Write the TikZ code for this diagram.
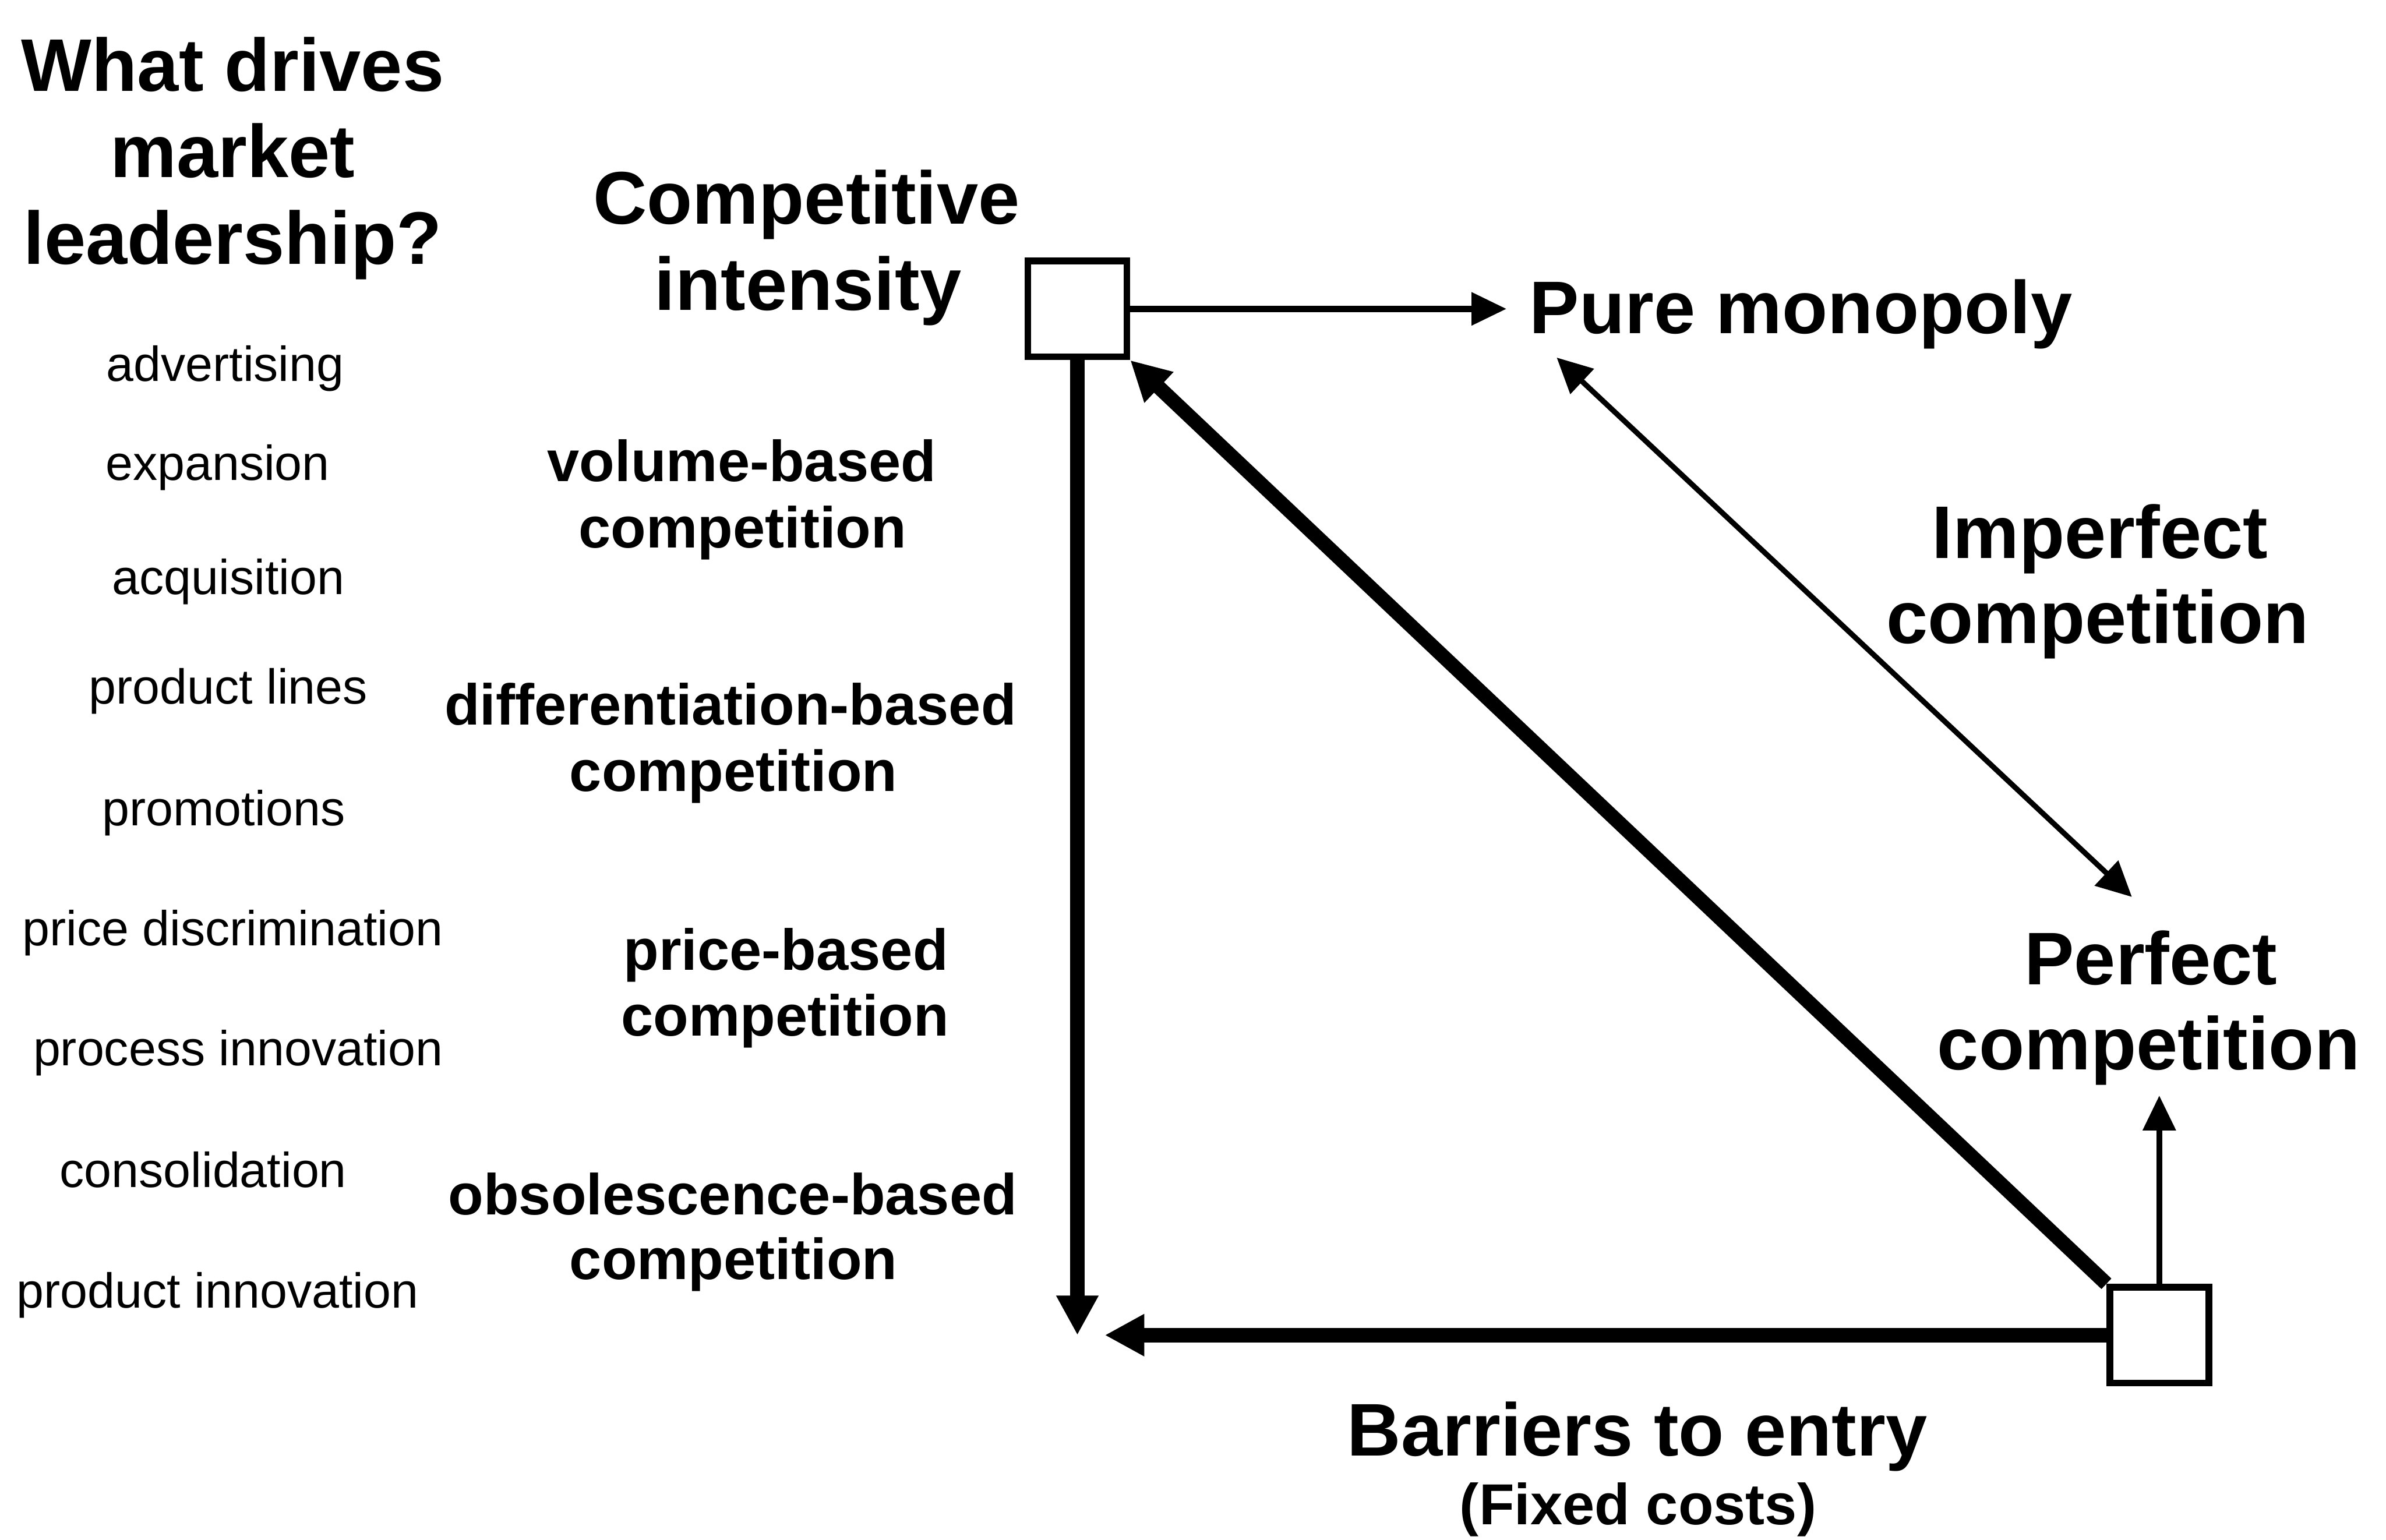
\documentclass[tikz,border=0pt]{standalone}
\usepackage{fontspec}
\setmainfont{Liberation Sans}
\usetikzlibrary{arrows.meta}
\begin{document}
\begin{tikzpicture}[x=1pt,y=-1pt,
  big/.style={font=\fontsize{49pt}{56pt}\selectfont\bfseries, inner sep=0pt, anchor=base},
  mid/.style={font=\fontsize{38pt}{44pt}\selectfont\bfseries, inner sep=0pt, anchor=base},
  small/.style={font=\fontsize{32.3pt}{38pt}\selectfont, inner sep=0pt, anchor=base},
  cornerbox/.style={draw, line width=4.5pt, minimum width=65pt, minimum height=63pt, inner sep=0pt},
  thinarrow/.style={line width=4pt, -{Triangle[length=23pt,width=21pt]}},
  heavyarrow/.style={line width=9.5pt, -{Triangle[length=26pt,width=26pt]}},
  twoway/.style={line width=3.5pt, {Triangle[length=23pt,width=22pt]}-{Triangle[length=23pt,width=22pt]}},
]
\useasboundingbox (0,0) rectangle (1568,1012);

% question heading
\node[big] (q1) at (153,60)    {What drives};
\node[big] (q2) at (153,116.5) {market};
\node[big] (q3) at (153,173.5) {leadership?};

% drivers of leadership
\node[small] (l1) at (148,250.5)   {advertising};
\node[small] (l2) at (143,315.5)   {expansion};
\node[small] (l3) at (150,390.5)   {acquisition};
\node[small] (l4) at (150,462.5)   {product lines};
\node[small] (l5) at (147,542.5)   {promotions};
\node[small] (l6) at (153,621.5)   {price discrimination};
\node[small] (l7) at (156.5,700.5) {process innovation};
\node[small] (l8) at (133.5,780.5) {consolidation};
\node[small] (l9) at (143,859.5)   {product innovation};

% kinds of competition
\node[mid] (m1a) at (487.5,316.5) {volume-based};
\node[mid] (m1b) at (488,360)     {competition};
\node[mid] (m2a) at (480,476.5)   {differentiation-based};
\node[mid] (m2b) at (482,520)     {competition};
\node[mid] (m3a) at (516.5,637.5) {price-based};
\node[mid] (m3b) at (516,681)     {competition};
\node[mid] (m4a) at (481.5,798.5) {obsolescence-based};
\node[mid] (m4b) at (482,841)     {competition};

% axis and market-form labels
\node[big] (ci1) at (530,147) {Competitive};
\node[big] (ci2) at (531,204) {intensity};
\node[big, anchor=base west] (pm) at (1005,219) {Pure monopoly};
\node[big] (ic1) at (1380,367)   {Imperfect};
\node[big] (ic2) at (1378.5,423) {competition};
\node[big] (pc1) at (1413.5,647) {Perfect};
\node[big] (pc2) at (1412,703)   {competition};
\node[big] (be) at (1076,957) {Barriers to entry};
\node[mid] (fc) at (1076.5,1002) {(Fixed costs)};

% corner boxes
\node[cornerbox] (tl) at (708,203) {};
\node[cornerbox] (br) at (1419,877.5) {};

% free arrow ends
\coordinate (pmTip) at (990,203);
\coordinate (vTip)  at (708,877.5);
\coordinate (hTip)  at (726,877.5);
\coordinate (pcTip) at (1419,720);
\coordinate (imA)   at (1023,235);
\coordinate (imB)   at (1401,589.5);

% connectors
\draw[thinarrow]  (tl.east) -- (pmTip);
\draw[heavyarrow] (tl.south) -- (vTip);
\draw[heavyarrow] (br.west) -- (hTip);
\draw[heavyarrow] (br.north west) -- (tl.south east);
\draw[thinarrow]  (br.north) -- (pcTip);
\draw[twoway]     (imA) -- (imB);
\end{tikzpicture}
\end{document}
